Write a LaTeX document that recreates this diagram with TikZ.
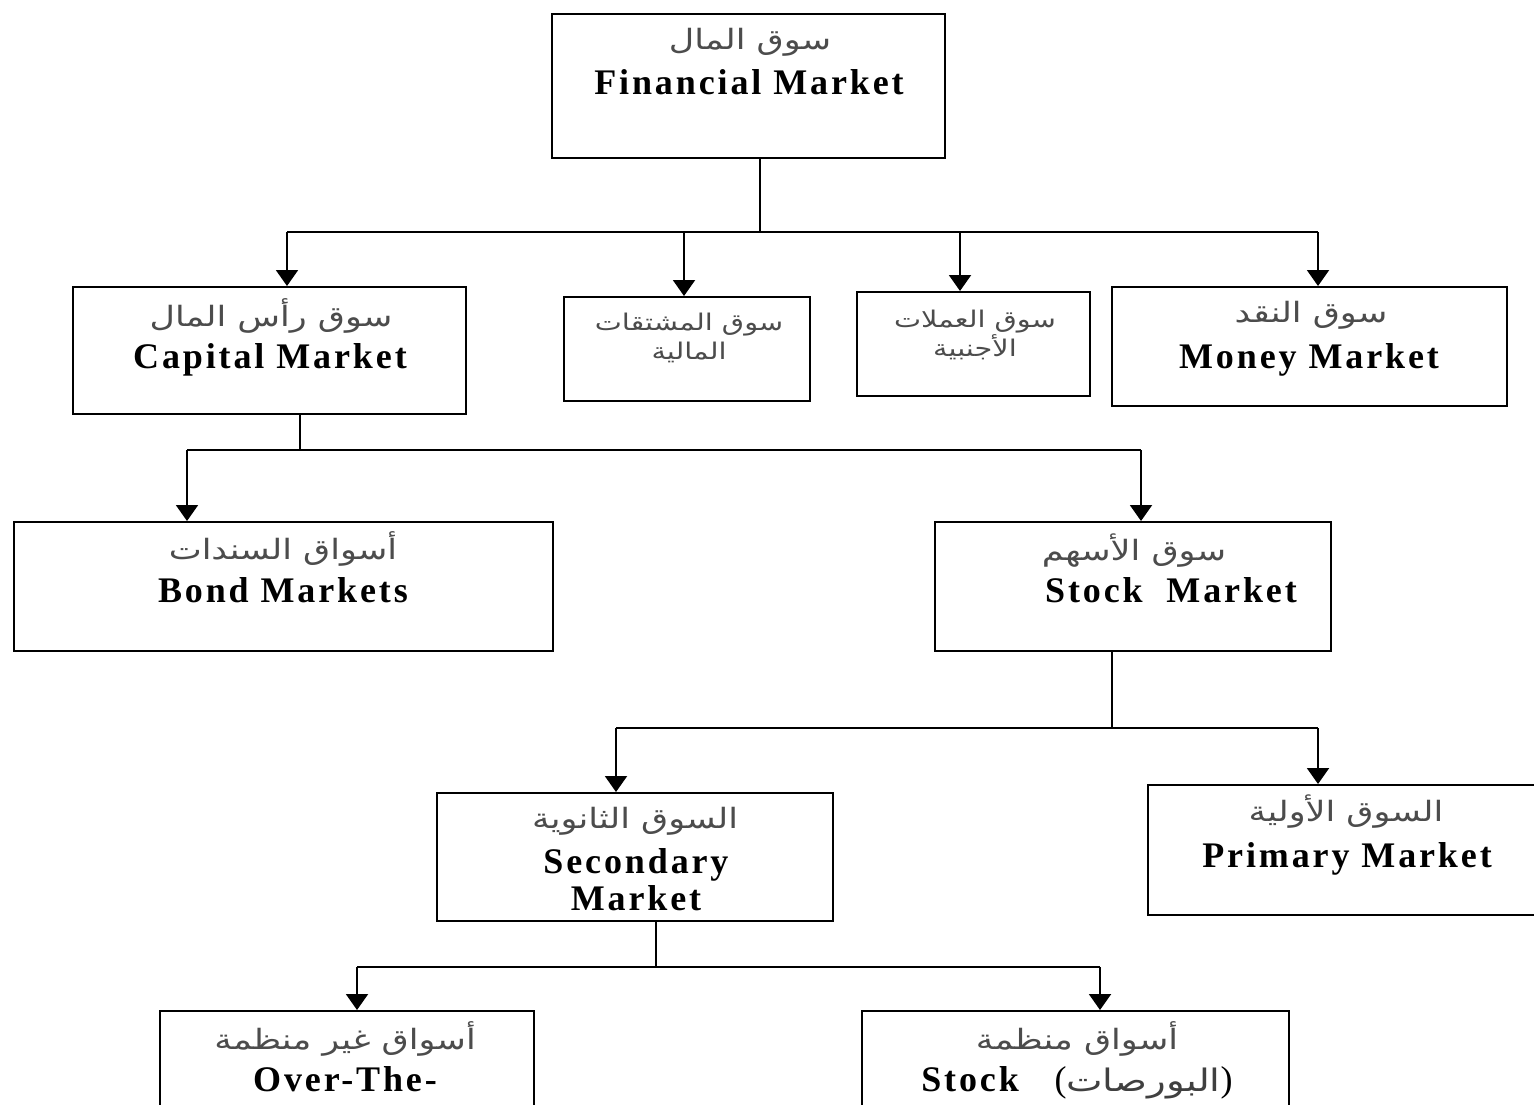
\documentclass[tikz,border=0pt]{standalone}
\usepackage{fontspec}
\setmainfont{Liberation Serif}
\newfontfamily\enfont[LetterSpace=8]{Liberation Serif}
\newfontfamily\parfont{Liberation Serif}
\newfontfamily\arabicfont[Script=Arabic,FakeStretch=1.25]{DejaVu Sans}
\TeXXeTstate=1
\usetikzlibrary{arrows.meta}
\tikzset{
  box/.style={draw, line width=1pt, inner sep=0pt, fill=white},
  ar/.style={font=\arabicfont\fontsize{14}{14.5}\selectfont, text=black!70, inner sep=0pt, align=center},
  arsmall/.style={ar, font=\arabicfont\fontsize{11.5}{14.5}\selectfont},
  en/.style={font=\enfont\bfseries\fontsize{18}{20}\selectfont, inner sep=0pt, anchor=base},
  conn/.style={line width=1pt},
  arr/.style={line width=1pt, -{Triangle[width=11pt,length=8pt]}}
}
\begin{document}
\begin{tikzpicture}[x=0.5pt,y=-0.5pt]
\useasboundingbox (0,0) rectangle (1534,1104);
\fill[white] (0,0) rectangle (1534,1104);
% boxes
\node[box, minimum width=196.5pt, minimum height=72pt] (fm) at (748.5,86) {};
\node[box, minimum width=196.5pt, minimum height=63.5pt] (cap) at (269.5,350.5) {};
\node[box, minimum width=123pt, minimum height=52pt] (der) at (687,349) {};
\node[box, minimum width=116.5pt, minimum height=52pt] (cur) at (973.5,344) {};
\node[box, minimum width=197.5pt, minimum height=59.5pt] (mon) at (1309.5,346.5) {};
\node[box, minimum width=269.5pt, minimum height=64.5pt] (bond) at (283.5,586.5) {};
\node[box, minimum width=198pt, minimum height=64.5pt] (stock) at (1133,586.5) {};
\node[box, minimum width=198pt, minimum height=64pt] (sec) at (635,857) {};
\node[box, minimum width=200pt, minimum height=65pt] (prim) at (1348,850) {};
\node[box, minimum width=187pt, minimum height=70pt] (otc) at (347,1081) {};
\node[box, minimum width=213.5pt, minimum height=70pt] (exch) at (1075.5,1081) {};
% texts
\node[ar] (t1a) at (750,42) {\beginR سوق المال\endR};
\node[en] (t1e) at (749,94) {Financial Market};
\node[ar] (t2a) at (271,316) {\beginR سوق رأس المال\endR};
\node[en] (t2e) at (270,368) {Capital Market};
\node[arsmall] (t3a) at (689,338) {\beginR سوق المشتقات\endR\\\beginR المالية\endR};
\node[arsmall] (t4a) at (975,335) {\beginR سوق العملات\endR\\\beginR الأجنبية\endR};
\node[ar] (t5a) at (1311,315) {\beginR سوق النقد\endR};
\node[en] (t5e) at (1309,368) {Money Market};
\node[ar] (t6a) at (283,549) {\beginR أسواق السندات\endR};
\node[en] (t6e) at (283,602) {Bond Markets};
\node[ar] (t7a) at (1134,551) {\beginR سوق الأسهم\endR};
\node[en] (t7e) at (1171,602) {Stock\ \ Market};
\node[ar] (t8a) at (635,821) {\beginR السوق الثانوية\endR};
\node[en] (t8e) at (636,873) {Secondary};
\node[en] (t8f) at (636,910) {Market};
\node[ar] (t9a) at (1346,812) {\beginR السوق الأولية\endR};
\node[en] (t9e) at (1347,867) {Primary Market};
\node[ar] (t10a) at (345,1039) {\beginR أسواق غير منظمة\endR};
\node[en] (t10e) at (345,1091) {Over-The-};
\node[ar] (t11a) at (1077,1039) {\beginR أسواق منظمة\endR};
\node[en] (t11e) at (1077,1091) {Stock\ \ \ {\parfont\mdseries\fontsize{18}{20}\selectfont(}{\arabicfont\mdseries\fontsize{15.5}{16}\selectfont\color{black!75}\beginR البورصات\endR}{\parfont\mdseries\fontsize{18}{20}\selectfont)}};
% connectors level 1
\coordinate (j1) at (760,232);
\coordinate (a1) at (287,232);
\coordinate (a2) at (684,232);
\coordinate (a3) at (960,232);
\coordinate (a4) at (1318,232);
\draw[conn] (fm.south -| j1) -- (j1);
\draw[conn] (a1) -- (a4);
\draw[arr] (a1) -- (a1 |- cap.north);
\draw[arr] (a2) -- (a2 |- der.north);
\draw[arr] (a3) -- (a3 |- cur.north);
\draw[arr] (a4) -- (a4 |- mon.north);
% level 2
\coordinate (j2) at (300,450);
\coordinate (c1) at (187,450);
\coordinate (c2) at (1141,450);
\draw[conn] (cap.south -| j2) -- (j2);
\draw[conn] (c1) -- (c2);
\draw[arr] (c1) -- (c1 |- bond.north);
\draw[arr] (c2) -- (c2 |- stock.north);
% level 3
\coordinate (j3) at (1112,728);
\coordinate (d1) at (616,728);
\coordinate (d2) at (1318,728);
\draw[conn] (stock.south -| j3) -- (j3);
\draw[conn] (d1) -- (d2);
\draw[arr] (d1) -- (d1 |- sec.north);
\draw[arr] (d2) -- (d2 |- prim.north);
% level 4
\coordinate (j4) at (656,967);
\coordinate (e1) at (357,967);
\coordinate (e2) at (1100,967);
\draw[conn] (sec.south -| j4) -- (j4);
\draw[conn] (e1) -- (e2);
\draw[arr] (e1) -- (e1 |- otc.north);
\draw[arr] (e2) -- (e2 |- exch.north);
\end{tikzpicture}
\end{document}
